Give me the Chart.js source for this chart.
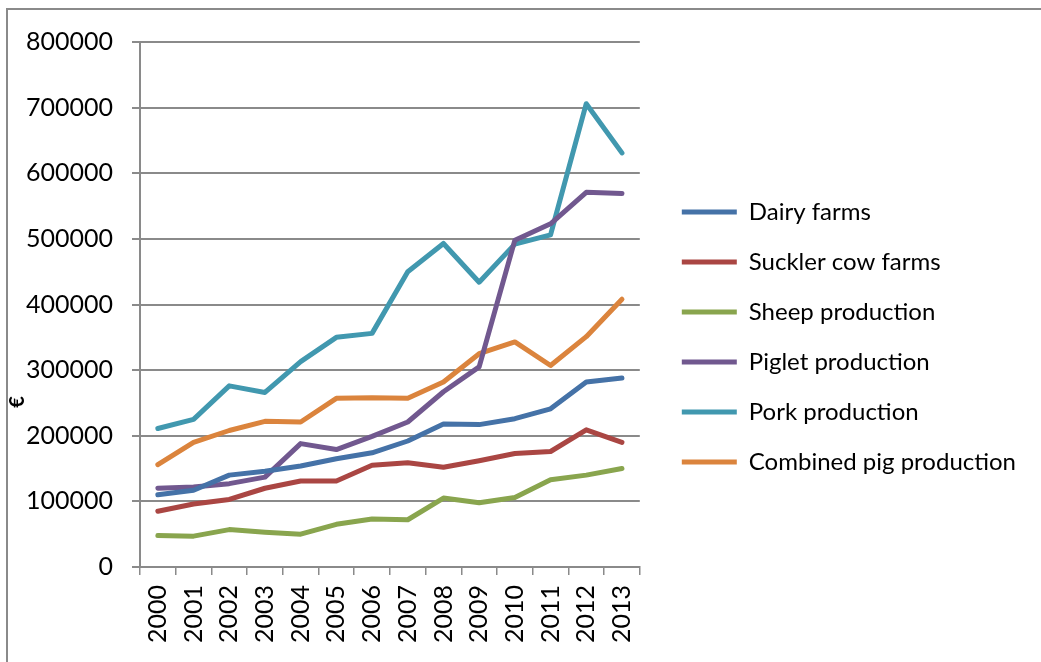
<!DOCTYPE html>
<html>
<head>
<meta charset="utf-8">
<title>Farm income by type</title>
<script src="https://cdn.jsdelivr.net/npm/chart.js@4.4.1/dist/chart.umd.min.js"></script>
<style>
  html, body { margin: 0; padding: 0; background: #fff; overflow: hidden; }
  #wrap { position: relative; width: 1041px; height: 662px; }
  #frame {
    position: absolute; left: 6px; top: 8px; width: 1060px; height: 680px;
    border: 2px solid #8a8a8a; box-sizing: border-box;
  }
  canvas { position: absolute; left: 0; top: 0; }
</style>
</head>
<body>
<div id="wrap">
  <div id="frame"></div>
  <canvas id="chart" width="1041" height="662"></canvas>
</div>
<script>
// years on the x axis
const years = ['2000', '2001', '2002', '2003', '2004', '2005', '2006',
               '2007', '2008', '2009', '2010', '2011', '2012', '2013'];

// € per farm, by production type
const dairyFarms      = [110000, 117000, 140000, 146000, 154000, 165000, 174000, 192000, 218000, 217000, 226000, 241000, 282000, 288000];
const sucklerCowFarms = [85000, 96000, 103000, 120000, 131000, 131000, 155000, 159000, 152000, 162000, 173000, 176000, 209000, 190000];
const sheepProduction = [48000, 47000, 57000, 53000, 50000, 65000, 73000, 72000, 105000, 98000, 106000, 133000, 140000, 150000];
const pigletProduction = [120000, 122000, 127000, 137000, 188000, 179000, 199000, 221000, 267000, 305000, 498000, 523000, 571000, 569000];
const porkProduction   = [211000, 225000, 276000, 266000, 313000, 350000, 356000, 450000, 493000, 434000, 492000, 506000, 706000, 631000];
const combinedPig      = [156000, 190000, 208000, 222000, 221000, 257000, 258000, 257000, 282000, 325000, 343000, 307000, 351000, 408000];

const seriesNames  = ['Dairy farms', 'Suckler cow farms', 'Sheep production',
                      'Piglet production', 'Pork production', 'Combined pig production'];
const seriesValues = [dairyFarms, sucklerCowFarms, sheepProduction,
                      pigletProduction, porkProduction, combinedPig];
const seriesColors = ['#4572A7', '#AA4643', '#89A54E', '#71588F', '#4198AF', '#DB843D'];

const yTicks = [0, 100000, 200000, 300000, 400000, 500000, 600000, 700000, 800000];

const FONT = 'Lato, "Open Sans", sans-serif';

// rotated € unit label beside the value axis
const unitLabel = {
    id: 'unitLabel',
    afterDraw(chart) {
        const ctx = chart.ctx;
        ctx.save();
        ctx.translate(18, 402);
        ctx.rotate(-Math.PI / 2);
        ctx.font = 'bold 20px ' + FONT;
        ctx.fillStyle = '#000';
        ctx.textAlign = 'center';
        ctx.textBaseline = 'middle';
        ctx.fillText('€', 0, 0);
        ctx.restore();
    }
};

// blank axis used only to reserve space around the plot
function spacer(position, size) {
    return {
        type: 'linear',
        position: position,
        display: true,
        grid: { display: false, drawTicks: false },
        border: { display: false },
        ticks: { display: false },
        afterFit(scale) {
            if (position === 'top') scale.height = size;
            else scale.width = size;
        }
    };
}

const datasets = seriesNames.map((name, i) => ({
    label: name,
    data: seriesValues[i],
    borderColor: seriesColors[i],
    backgroundColor: seriesColors[i],
    borderWidth: 5,
    borderCapStyle: 'round',
    borderJoinStyle: 'round',
    pointRadius: 0,
    pointHoverRadius: 0,
    pointStyle: 'line',
    tension: 0,
    fill: false
}));

const ctx = document.getElementById('chart').getContext('2d');
new Chart(ctx, {
    type: 'line',
    data: { labels: years, datasets: datasets },
    options: {
        responsive: false,
        animation: false,
        layout: { padding: { top: 12, right: 15, left: 0, bottom: 0 } },
        plugins: {
            tooltip: { enabled: false },
            legend: {
                position: 'right',
                maxWidth: 385,
                labels: {
                    usePointStyle: true,
                    pointStyleWidth: 55,
                    padding: 26,
                    color: '#000',
                    font: { family: FONT, size: 24 }
                }
            }
        },
        scales: {
            x: {
                offset: true,
                grid: {
                    offset: true,
                    drawOnChartArea: false,
                    drawTicks: true,
                    tickLength: 8,
                    color: '#8a8a8a',
                    lineWidth: 1.5
                },
                border: { color: '#8a8a8a', width: 2 },
                ticks: {
                    color: '#000',
                    font: { family: FONT, size: 25 },
                    maxRotation: 90,
                    minRotation: 90,
                    padding: 10,
                    autoSkip: false
                },
                afterFit(scale) { scale.height = 95; }
            },
            y: {
                min: 0,
                max: 800000,
                afterBuildTicks(scale) { scale.ticks = yTicks.map(v => ({ value: v })); },
                grid: {
                    color: '#8a8a8a',
                    lineWidth: 2,
                    tickLength: 8
                },
                border: { color: '#8a8a8a', width: 2 },
                ticks: {
                    color: '#000',
                    font: { family: FONT, size: 25 },
                    padding: 19,
                    callback: v => String(v)
                },
                afterFit(scale) { scale.width = 140; }
            },
            gapTop: spacer('top', 30),
            gapRight: spacer('right', 16)
        }
    },
    plugins: [unitLabel]
});
</script>
</body>
</html>
